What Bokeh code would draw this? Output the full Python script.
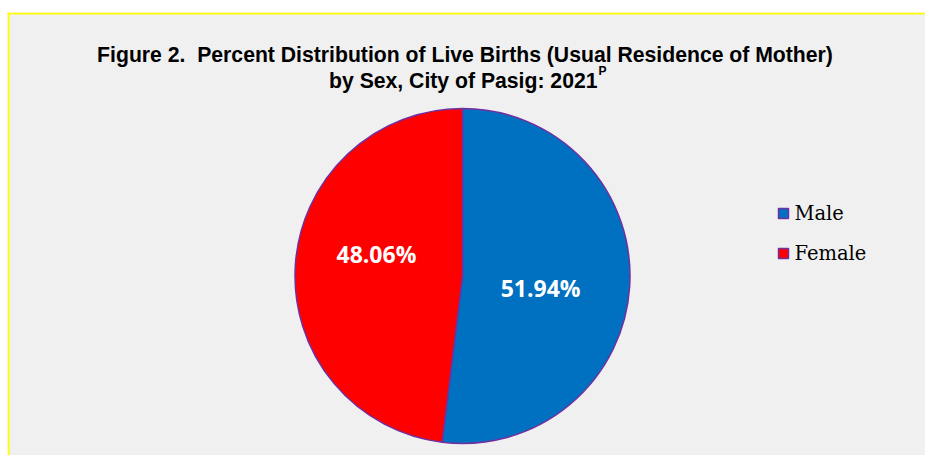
import math
from bokeh.plotting import figure
from bokeh.models import Range1d, Span, ColumnDataSource
from bokeh.core.properties import value
from bokeh.embed import file_html
from bokeh.resources import INLINE

# ---- data ----
categories = ["Male", "Female"]
percent = [51.94, 48.06]
colors = ["#0070C0", "#FF0000"]
title_line1 = "Figure 2.  Percent Distribution of Live Births (Usual Residence of Mother)"
title_line2 = "by Sex, City of Pasig: 2021"
title_sup = "P"

# ---- layout (page pixels -> data units, 1:1) ----
W, H, TOP, LEFT = 925, 455, 12, 7
def X(px):
    return px - LEFT
def Y(py):
    return H - py

p = figure(width=W, height=H, x_range=Range1d(0, W - LEFT), y_range=Range1d(0, H - TOP),
           x_axis_type=None, y_axis_type=None, output_backend="svg",
           toolbar_location=None, min_border_left=LEFT, min_border_right=0,
           min_border_bottom=0, min_border_top=TOP)
p.background_fill_color = "#F0F0F0"
p.border_fill_color = "white"
p.outline_line_color = None

# yellow frame (top and left edges visible)
p.add_layout(Span(location=Y(13), dimension="width", line_color="#FFFF00", line_width=2))
p.add_layout(Span(location=X(8), dimension="height", line_color="#FFFF00", line_width=2))

# ---- pie ----
cx, cy, r = X(462), Y(275.5), 167.5
total = sum(percent)
starts, ends = [], []
a = math.pi / 2
for v in percent:
    starts.append(a)
    a -= 2 * math.pi * v / total
    ends.append(a)
src = ColumnDataSource(dict(start=starts, end=ends, color=colors, cat=categories))
p.wedge(x=cx, y=cy, radius=r, start_angle="start", end_angle="end", direction="clock",
        fill_color="color", line_color="#7030A0", line_width=1.5, source=src)

# data labels
lx, ly, lt = [], [], []
for s, e, v in zip(starts, ends, percent):
    mid = (s + e) / 2 - math.radians(8)
    lx.append(cx + 0.5 * r * math.cos(mid) - 4)
    ly.append(cy + 0.5 * r * math.sin(mid) + 5)
    lt.append(f"{v:.2f}%")
p.text(x=lx, y=ly, text=lt, text_color="white", text_font=value("Open Sans"),
       text_font_style="bold", text_font_size="23px", text_align="center",
       text_baseline="alphabetic")

# ---- title ----
t1 = title_line1.replace("  ", " \u00a0")
p.text(x=[X(464.5)], y=[Y(54)], text=[t1], text_font=value("Liberation Sans"),
       text_font_style="bold", text_font_size="21.2px", text_align="center",
       text_baseline="alphabetic", text_color="black")
p.text(x=[X(597)], y=[Y(80)], text=[title_line2], text_font=value("Liberation Sans"),
       text_font_style="bold", text_font_size="21.2px", text_align="right",
       text_baseline="alphabetic", text_color="black")
p.text(x=[X(598)], y=[Y(70)], text=[title_sup], text_font=value("Liberation Sans"),
       text_font_style="bold", text_font_size="12px", text_align="left",
       text_baseline="alphabetic", text_color="black")

# ---- legend ----
ly_leg = [Y(213 + 40 * i) for i in range(len(categories))]
p.scatter(x=[X(783)] * len(categories), y=ly_leg, marker="square", size=10,
          fill_color=colors, line_color="#7030A0", line_width=1.5)
p.text(x=[X(794)] * len(categories), y=ly_leg, text=categories,
       text_font=value("DejaVu Serif"), text_font_size="19.5px", text_align="left",
       text_baseline="alphabetic", text_color="black")

open("out.html", "w").write(file_html(p, INLINE))
